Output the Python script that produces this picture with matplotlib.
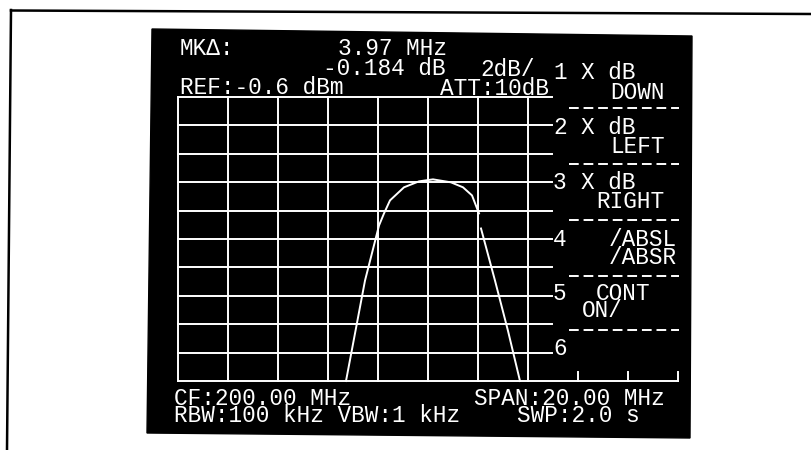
import numpy as np
import matplotlib
matplotlib.use("Agg")
import matplotlib.pyplot as plt
from matplotlib.patches import Polygon

# screen settings (spectrum analyzer)
cf_mhz = 200.0
span_mhz = 20.0
ref_dbm = -0.6
db_per_div = 2.0
n_div = 10

# trace (MHz, dBm)
trace_freq_a = [196.72, 197.48, 198.04, 198.24, 198.48, 199.04, 199.64, 200.20,
                200.92, 201.40, 201.76, 201.96, 202.04]
trace_level_a = [-20.6, -13.53, -9.65, -8.80, -7.88, -6.96, -6.54, -6.40,
                 -6.61, -6.96, -7.53, -8.44, -8.80]
trace_freq_b = [202.12, 202.68, 203.20, 203.68]
trace_level_b = [-9.86, -13.53, -17.07, -20.6]

# screen texts: (text, left x px, baseline y px)
header_texts = [("MKΔ:", 180, 55), ("3.97 MHz", 338, 55),
                ("-0.184 dB", 323, 75), ("2dB/", 480, 76),
                ("REF:-0.6 dBm", 180, 94), ("ATT:10dB", 440, 95)]
menu_numbers = [("1", 553, 79), ("2", 553, 134), ("3", 553, 189),
                ("4", 553, 246), ("5", 553, 300), ("6", 553, 355)]
menu_texts = [("X dB", 581, 79), ("DOWN", 610, 99),
              ("X dB", 581, 134), ("LEFT", 610, 153),
              ("X dB", 581, 189), ("RIGHT", 596, 208),
              ("/ABSL", 609, 246), ("/ABSR", 609, 264),
              ("CONT", 596, 300), ("ON/", 582, 317)]
footer_texts = [("CF:200.00 MHz", 174, 405), ("SPAN:20.00 MHz", 474, 405),
                ("RBW:100 kHz VBW:1 kHz", 174, 422), ("SWP:2.0 s", 517, 422)]
menu_separators = [108, 164, 220, 276, 330]

W, H = 812, 450
fig = plt.figure(figsize=(W / 100, H / 100), dpi=100)
fig.patch.set_facecolor("white")

# pixel overlay for frame, screen and texts
bg = fig.add_axes([0, 0, 1, 1])
bg.set_xlim(0, W)
bg.set_ylim(H, 0)
bg.axis("off")

bg.plot([11, 7], [10, 450], color="black", lw=1.8)
bg.plot([11, 812], [10.5, 14], color="black", lw=1.8)
bg.add_patch(Polygon([(152, 29), (692, 36), (690, 438), (147, 433)],
                     closed=True, facecolor="black", edgecolor="black"))

font = dict(family=["Liberation Mono", "DejaVu Sans Mono"], fontsize=16.4,
            color="white", ha="left", va="baseline")
for s, x, y in header_texts + menu_numbers + menu_texts + footer_texts:
    bg.text(x, y, s, **font)

for y in menu_separators:
    bg.plot([569, 679], [y, y], color="white", lw=1.4, linestyle=(0, (5, 2.5)))

# graticule + trace
lo = cf_mhz - span_mhz / 2
hi = cf_mhz + span_mhz / 2
bottom = ref_dbm - n_div * db_per_div
ax = fig.add_axes([178 / W, 1 - 381 / H, 500 / W, 284 / H])
ax.patch.set_alpha(0)
ax.set_xlim(lo, hi)
ax.set_ylim(bottom, ref_dbm)
ax.axis("off")

step_x = span_mhz / n_div
line_end = lo + 7 * step_x + 0.96
for k in range(n_div):
    y = ref_dbm - k * db_per_div
    ax.plot([lo, line_end], [y, y], color="white", lw=1.4, clip_on=False)
ax.plot([lo, hi], [bottom, bottom], color="white", lw=1.4, clip_on=False)
for k in range(8):
    x = lo + k * step_x
    ax.plot([x, x], [bottom, ref_dbm], color="white", lw=1.4, clip_on=False)
for k in range(8, n_div + 1):
    x = lo + k * step_x
    ax.plot([x, x], [bottom, bottom + 0.6], color="white", lw=1.4, clip_on=False)

ax.plot(trace_freq_a, trace_level_a, color="white", lw=1.4, clip_on=False)
ax.plot(trace_freq_b, trace_level_b, color="white", lw=1.4, clip_on=False)

fig.savefig("out.png", dpi=100, facecolor="white")
